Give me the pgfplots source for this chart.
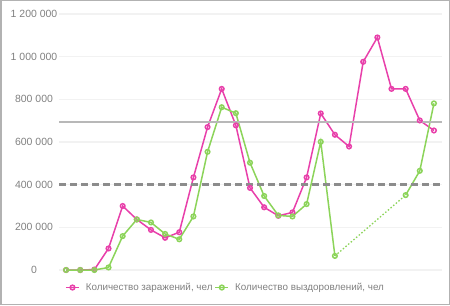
\documentclass[border=0pt]{standalone}
\usepackage{fontspec}
\setmainfont{Liberation Sans}
\usepackage{pgfplots}
\pgfplotsset{compat=1.18}
\definecolor{cinf}{RGB}{232,64,170}
\definecolor{crec}{RGB}{140,212,90}
\definecolor{ctxt}{RGB}{128,128,128}
\definecolor{cgrid}{RGB}{242,242,242}
\definecolor{cframe}{RGB}{178,178,178}
\begin{document}
\begin{tikzpicture}[x=1bp,y=1bp]
\useasboundingbox (0,0) rectangle (450,305);
\draw[cframe,line width=1.5bp] (0.75,0.75) rectangle (449.25,304.25);
\begin{axis}[
  at={(59bp,35bp)}, anchor=south west,
  scale only axis, width=383bp, height=256bp,
  xmin=-0.5, xmax=26.57, ymin=0, ymax=1200010,
  clip=false,
  scaled y ticks=false,
  axis line style={draw=none},
  xtick=\empty,
  ytick={0,200000,400000,600000,800000,1000000,1200000},
  yticklabels={0,200 000,400 000,600 000,800 000,1 000 000,1 200 000},
  major tick length=0pt,
  ymajorgrids, grid style={cgrid,line width=1.2bp},
  yticklabel style={anchor=center, xshift=-25bp, font=\fontsize{10.5}{11}\selectfont, text=ctxt},
  legend columns=2,
  legend style={at={(axis description cs:0,0)}, anchor=west, xshift=3bp, yshift=-17.5bp,
    draw=none, fill=none, font=\fontsize{9.9}{10}\selectfont, text=ctxt,
    /tikz/every odd column/.append style={column sep=4bp},
    /tikz/every even column/.append style={column sep=0bp}},
  legend image code/.code={\draw[mark repeat=2,mark phase=2,line width=1.6bp] plot coordinates {(0bp,0bp)(6.5bp,0bp)(13bp,0bp)};},
  every axis plot/.append style={line width=1.5bp, mark=o, mark size=2.3bp, mark options={fill=white, line width=1.2bp}},
]
\addplot[cinf, mark options={fill=white}] coordinates {
(0,0) (1,0) (2,2000) (3,101000) (4,300000) (5,237000) (6,188000) (7,151000) (8,177000)
(9,434000) (10,670000) (11,849000) (12,678000) (13,385000) (14,294000) (15,254000) (16,270000)
(17,434000) (18,734000) (19,634000) (20,579000) (21,976000) (22,1090000) (23,849000) (24,849000)
(25,701000) (26,654000)};
\addlegendentry{Количество заражений, чел}
\addplot[crec, mark options={fill=white}] coordinates {
(0,0) (1,0) (2,0) (3,12000) (4,159000) (5,237000) (6,223000) (7,169000) (8,144000)
(9,251000) (10,554000) (11,763000) (12,735000) (13,503000) (14,347000) (15,256000) (16,251000)
(17,309000) (18,601000) (19,66000)};
\addlegendentry{Количество выздоровлений, чел}
\addplot[crec, dotted, line width=1.3bp, mark=none, forget plot] coordinates {(19,66000) (24,351000)};
\addplot[crec, mark options={fill=white}, forget plot] coordinates {(24,351000) (25,465000) (26,781000)};
\addplot[black!28, line width=1.8bp, mark=none, forget plot] coordinates {(-0.5,695000) (26.57,695000)};
\addplot[black!45, line width=2.5bp, dash pattern=on 7bp off 4bp, mark=none, forget plot] coordinates {(-0.5,400000) (26.57,400000)};
\end{axis}
\end{tikzpicture}
\end{document}
